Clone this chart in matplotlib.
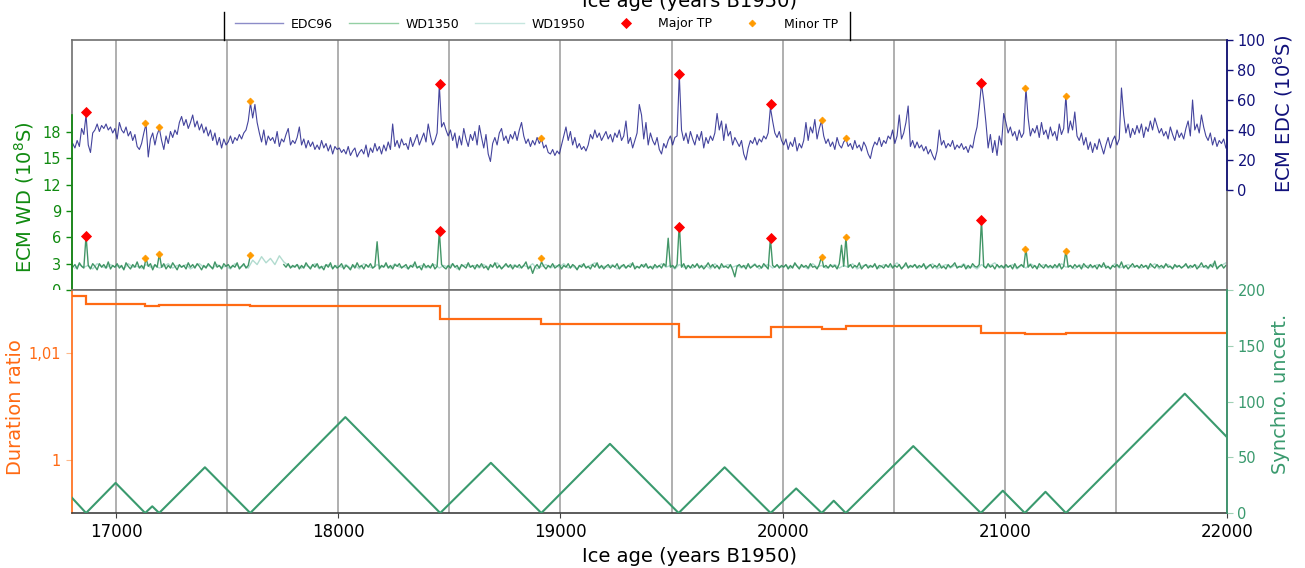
import numpy as np
import matplotlib
matplotlib.use("Agg")
import matplotlib.pyplot as plt
from matplotlib.lines import Line2D
from matplotlib.transforms import Bbox, TransformedBbox

nan = float("nan")

# ---------------- data ----------------
EDC_START, EDC_STEP = 16805, 10
edc96 = [
    31, 28, 33, 29, 41, 37, 50, 30, 25, 38,
    40, 44, 39, 43, 41, 44, 40, 42, 38, 41,
    34, 45, 40, 38, 42, 36, 39, 33, 37, 29,
    27, 31, 38, 44, 22, 34, 38, 30, 37, 41,
    33, 27, 36, 31, 39, 35, 40, 37, 45, 49,
    43, 47, 41, 45, 50, 42, 46, 40, 44, 38,
    42, 36, 40, 33, 38, 30, 35, 28, 34, 30,
    32, 36, 31, 35, 33, 37, 34, 38, 40, 46,
    58, 48, 57, 45, 38, 32, 40, 30, 36, 33,
    35, 31, 39, 29, 34, 32, 37, 41, 30, 33,
    31, 35, 42, 30, 34, 28, 33, 29, 32, 27,
    30, 27, 33, 28, 31, 26, 30, 24, 29, 27,
    28, 25, 27, 24, 29, 23, 26, 28, 22, 25,
    27, 24, 30, 22, 28, 25, 31, 26, 29, 24,
    30, 26, 32, 27, 44, 29, 33, 28, 34, 30,
    31, 27, 35, 29, 33, 37, 30, 34, 38, 32,
    44, 36, 30, 33, 38, 70, 42, 45, 40, 36,
    40, 33, 38, 28, 36, 30, 41, 34, 29, 37,
    33, 39, 30, 43, 35, 28, 37, 24, 19, 31,
    35, 30, 38, 41, 33, 36, 31, 37, 34, 39,
    33, 40, 45, 36, 31, 34, 29, 33, 30, 35,
    31, 34, 28, 30, 25, 24, 27, 23, 26, 24,
    30, 36, 42, 33, 39, 30, 35, 28, 31, 27,
    29, 26, 30, 37, 34, 40, 35, 38, 33, 36,
    39, 34, 37, 32, 38, 35, 40, 33, 36, 46,
    31, 35, 28, 33, 38, 57, 50, 34, 45, 30,
    38, 33, 30, 35, 27, 24, 31, 28, 33, 36,
    30, 35, 36, 77, 40, 33, 38, 31, 39, 34,
    30, 37, 33, 39, 28, 35, 31, 36, 33, 38,
    51, 40, 46, 33, 44, 36, 39, 30, 35, 32,
    29, 33, 24, 20, 28, 33, 31, 35, 30, 34,
    32, 36, 34, 38, 55, 46, 38, 35, 39, 33,
    30, 34, 27, 32, 29, 35, 26, 31, 28, 33,
    45, 33, 42, 38, 47, 34, 41, 46, 36, 31,
    34, 29, 32, 27, 35, 30, 28, 32, 34, 29,
    31, 27, 33, 28, 30, 26, 32, 29, 24, 21,
    28, 32, 30, 35, 29, 33, 31, 36, 34, 40,
    31, 36, 50, 34, 38, 45, 56, 29, 33, 28,
    32, 28, 30, 26, 29, 24, 27, 23, 20, 26,
    40, 30, 33, 28, 31, 29, 33, 27, 30, 28,
    31, 27, 29, 25, 30, 28, 36, 42, 55, 71,
    60, 45, 28, 37, 25, 33, 23, 36, 30, 51,
    45, 38, 42, 36, 39, 33, 40, 35, 38, 68,
    48, 36, 41, 38, 43, 35, 45, 37, 40, 34,
    42, 36, 39, 33, 44, 37, 41, 63, 38, 46,
    40, 52, 36, 33, 38, 30, 35, 27, 32, 25,
    31, 27, 34, 29, 24, 30, 35, 28, 33, 36,
    30, 34, 68, 50, 38, 44, 35, 41, 37, 43,
    38, 44, 35, 42, 39, 46, 40, 48, 43, 38,
    41, 36, 39, 34, 42, 37, 33, 40, 35, 38,
    34, 41, 46, 36, 60, 40, 44, 38, 50, 42,
    36, 33, 38, 30, 35, 29, 33, 31, 34, 28,
]

WD1350_START, WD1350_STEP = 16805, 10
wd1350 = [
    2.6, 2.9, 2.4, 3.1, 2.7, 2.5, 6.2, 2.8, 2.4, 3.0,
    2.7, 2.3, 3.0, 2.6, 2.9, 2.5, 3.2, 2.4, 2.8, 2.6,
    3.0, 2.5, 2.8, 2.3, 3.1, 2.7, 2.4, 2.9, 2.6, 3.2,
    2.5, 2.8, 2.4, 3.6, 2.7, 3.0, 2.3, 2.9, 2.6, 4.1,
    2.6, 3.0, 2.4, 2.8, 2.5, 3.1, 2.7, 2.3, 2.9, 2.6,
    2.8, 2.4, 3.1, 2.6, 2.9, 2.5, 3.0, 2.7, 2.3, 2.8,
    2.5, 3.0, 2.7, 2.4, 3.2, 2.6, 2.8, 2.4, 3.0, 2.7,
    2.9, 2.5, 2.8, 2.6, 3.1, 2.4, 2.7, 3.0, 2.5, 2.8,
    4.0, nan, nan, nan, nan, nan, nan, nan, nan, nan,
    nan, nan, nan, nan, nan, 2.9, 2.6, 3.0, 2.5, 2.8,
    2.6, 2.9, 2.4, 2.8, 2.5, 3.1, 2.7, 2.4, 2.9, 2.6,
    3.0, 2.5, 2.7, 2.3, 2.9, 2.6, 3.1, 2.4, 2.8, 2.5,
    2.7, 3.0, 2.4, 2.8, 2.6, 2.3, 2.9, 2.5, 3.1, 2.6,
    2.8, 2.4, 2.9, 2.6, 3.0, 2.5, 2.7, 5.5, 2.4, 2.8,
    2.6, 3.1, 2.5, 2.8, 2.4, 2.9, 2.7, 3.0, 2.5, 2.7,
    2.9, 2.4, 2.8, 2.6, 3.2, 2.5, 2.7, 2.3, 3.0, 2.6,
    2.8, 2.5, 3.0, 2.4, 2.7, 6.7, 2.9, 2.6, 2.4, 2.8,
    2.5, 3.0, 2.6, 2.8, 2.3, 2.9, 2.7, 2.5, 3.1, 2.6,
    2.8, 2.4, 2.9, 2.6, 3.0, 2.5, 2.7, 2.3, 2.9, 2.6,
    3.1, 2.5, 2.8, 2.4, 2.7, 3.0, 2.6, 2.9, 2.4, 2.8,
    2.6, 2.9, 2.5, 2.8, 3.2, 2.4, 2.7, 1.9, 2.6, 2.9,
    2.5, 3.2, 2.7, 2.4, 2.8, 2.6, 3.0, 2.5, 2.7, 2.9,
    2.4, 2.8, 2.6, 3.0, 2.5, 2.9, 2.7, 2.3, 2.8, 2.6,
    3.0, 2.5, 2.7, 2.4, 2.9, 2.6, 3.1, 2.5, 2.8, 2.4,
    2.7, 2.9, 2.5, 2.8, 2.6, 3.0, 2.4, 2.7, 2.9, 2.5,
    2.8, 2.6, 3.1, 2.4, 2.7, 2.5, 2.9, 2.6, 3.0, 2.5,
    2.7, 2.4, 2.9, 2.6, 2.8, 2.5, 3.0, 2.7, 5.9, 2.6,
    2.8, 2.5, 2.9, 7.6, 2.6, 3.0, 2.4, 2.8, 2.5, 2.9,
    2.6, 3.0, 2.5, 2.8, 2.4, 2.7, 3.1, 2.6, 2.9, 2.5,
    2.8, 2.4, 3.0, 2.6, 2.7, 2.5, 2.9, 2.3, 1.5, 2.7,
    2.9, 2.6, 2.8, 2.4, 3.0, 2.5, 2.7, 2.9, 2.6, 2.8,
    2.5, 3.0, 2.7, 2.4, 5.9, 2.8, 2.6, 2.9, 2.5, 2.8,
    2.6, 2.9, 2.4, 2.8, 2.5, 3.1, 2.7, 2.4, 2.9, 2.6,
    2.8, 2.5, 3.0, 2.6, 2.7, 2.4, 2.9, 3.8, 2.6, 2.8,
    2.5, 2.9, 2.6, 2.8, 2.4, 3.0, 5.1, 2.7, 6.0, 2.6,
    2.9, 2.5, 2.8, 2.6, 3.1, 2.4, 2.7, 2.9, 2.5, 2.8,
    2.6, 3.0, 2.4, 2.8, 2.7, 2.5, 2.9, 2.6, 3.0, 2.5,
    2.8, 2.6, 2.9, 2.4, 2.7, 3.1, 2.5, 2.8, 2.6, 2.9,
    2.5, 2.8, 2.6, 3.0, 2.4, 2.7, 2.9, 2.5, 2.8, 2.6,
    3.0, 2.5, 2.7, 2.4, 2.9, 2.6, 2.8, 3.1, 2.5, 2.7,
    2.6, 2.9, 2.4, 2.8, 2.5, 3.0, 2.7, 2.6, 2.9, 8.0,
    2.7, 2.5, 3.0, 2.6, 2.8, 2.4, 2.9, 2.6, 2.8, 2.5,
    2.9, 2.6, 2.8, 2.4, 3.0, 2.5, 2.7, 2.9, 2.6, 4.7,
    2.6, 2.9, 2.5, 2.8, 2.4, 3.0, 2.7, 2.5, 2.9, 2.6,
    2.8, 2.5, 2.9, 2.6, 3.0, 2.4, 2.7, 4.5, 2.6, 2.8,
    2.5, 2.9, 2.6, 2.8, 2.4, 3.0, 2.7, 2.5, 2.9, 2.6,
    2.8, 2.4, 2.9, 2.6, 3.1, 2.5, 2.7, 2.4, 2.8, 2.6,
    2.9, 2.6, 3.2, 2.5, 2.8, 2.4, 2.7, 3.0, 2.6, 2.8,
    2.5, 2.9, 2.6, 2.8, 2.4, 3.0, 2.7, 2.5, 2.9, 2.6,
    2.8, 2.5, 3.0, 2.6, 2.7, 2.4, 2.9, 2.6, 2.8, 2.5,
    2.7, 3.0, 2.5, 2.8, 2.6, 2.9, 2.4, 2.7, 3.1, 2.6,
    2.8, 2.5, 2.9, 2.6, 3.3, 2.4, 2.7, 2.9, 2.5, 2.8,
]

WD1950_START, WD1950_STEP = 16815, 20
wd1950 = [
    2.5, 2.9, 2.6, 2.8, 2.4, 3.0, 2.7, 2.5, 2.9, 2.6,
    2.8, 2.4, 3.0, 2.6, 2.7, 2.5, 2.9, 2.6, 2.8, 2.5,
    2.7, 3.0, 2.5, 2.8, 2.6, 2.9, 2.4, 2.7, 3.0, 2.6,
    2.8, 2.5, 2.9, 2.6, 2.7, 2.4, 3.0, 2.6, 2.8, 2.5,
    3.4, 2.9, 3.8, 3.1, 3.6, 2.9, 3.9, 3.2, 2.8, 2.6,
    2.9, 2.5, 2.8, 2.6, 3.0, 2.4, 2.7, 2.9, 2.5, 2.8,
    2.6, 2.9, 2.5, 2.8, 2.4, 3.0, 2.7, 2.5, 2.9, 2.6,
    2.8, 2.5, 3.0, 2.6, 2.7, 2.4, 2.9, 2.6, 2.8, 2.5,
    2.7, 2.9, 2.5, 2.8, 2.6, 3.0, 2.4, 2.7, 2.9, 2.6,
    2.8, 2.5, 2.9, 2.6, 2.7, 3.1, 2.5, 2.8, 2.6, 2.9,
    2.5, 2.8, 2.6, 3.0, 2.4, 2.7, 2.9, 2.5, 2.8, 2.6,
    3.0, 2.5, 2.7, 2.4, 2.9, 2.6, 2.8, 3.1, 2.5, 2.7,
    2.6, 2.9, 2.4, 2.8, 2.5, 3.0, 2.7, 2.6, 2.9, 2.5,
    2.7, 2.5, 3.0, 2.6, 2.8, 2.4, 2.9, 2.6, 2.8, 2.5,
    2.9, 2.6, 2.8, 2.4, 3.0, 2.5, 2.7, 2.9, 2.6, 2.8,
    2.5, 2.8, 2.6, 3.0, 2.4, 2.7, 2.9, 2.5, 2.8, 2.6,
    2.8, 2.5, 2.9, 2.6, 2.7, 2.4, 3.0, 2.6, 2.8, 2.5,
    2.7, 2.9, 2.5, 2.8, 2.6, 3.0, 2.4, 2.7, 2.9, 2.6,
    2.8, 2.5, 2.9, 2.6, 2.7, 3.1, 2.5, 2.8, 2.6, 2.9,
    2.5, 2.8, 2.6, 3.0, 2.4, 2.7, 2.9, 2.5, 2.8, 2.6,
    3.0, 2.5, 2.7, 2.4, 2.9, 2.6, 2.8, 3.1, 2.5, 2.7,
    2.6, 2.9, 2.4, 2.8, 2.5, 3.0, 2.7, 2.6, 2.9, 2.5,
    2.7, 2.5, 3.0, 2.6, 2.8, 2.4, 2.9, 2.6, 2.8, 2.5,
    2.9, 2.6, 2.8, 2.4, 3.0, 2.5, 2.7, 2.9, 2.6, 2.8,
    2.5, 2.8, 2.6, 3.0, 2.4, 2.7, 2.9, 2.5, 2.8, 2.6,
    2.8, 2.5, 2.9, 2.6, 2.7, 2.4, 3.0, 2.6, 2.8, 3.1,
]

major_tp_age = [16865, 18459, 19532, 19946, 20892]
major_tp_edc = [52.0, 70.4, 77.6, 57.1, 71.1]
major_tp_wd = [6.2, 6.7, 7.2, 5.9, 8.0]

minor_tp_age = [17131, 17194, 17604, 18914, 20176, 20284, 21090, 21275]
minor_tp_edc = [44.4, 41.8, 59.1, 34.4, 46.4, 34.4, 67.8, 62.9]
minor_tp_wd = [3.6, 4.1, 4.0, 3.6, 3.8, 6.0, 4.7, 4.5]

ratio_edges = [16800, 16865, 17131, 17194, 17604, 18459, 18914, 19532,
               19946, 20176, 20284, 20892, 21090, 21275, 22000]
ratio_values = [1.01540, 1.01462, 1.01446, 1.01456, 1.01441, 1.01321, 1.01277,
                1.01150, 1.01246, 1.01231, 1.01253, 1.01187, 1.01181, 1.01193]

sync_age = [16800, 16865, 16998, 17131, 17163, 17194, 17400, 17604, 18032,
            18459, 18687, 18914, 19223, 19532, 19739, 19946, 20061, 20176,
            20230, 20284, 20588, 20892, 20991, 21090, 21183, 21275, 21810, 22000]
sync_unc = [14, 0, 27, 0, 6, 0, 41, 0, 86, 0, 45, 0, 62, 0, 41, 0, 22, 0,
            11, 0, 60, 0, 20, 0, 19, 0, 107, 68]

x_major_ticks = [17000, 18000, 19000, 20000, 21000, 22000]
x_grid_ticks = [17000, 17500, 18000, 18500, 19000, 19500, 20000, 20500, 21000, 21500]
wd_ticks = [0, 3, 6, 9, 12, 15, 18]
edc_ticks = [0, 20, 40, 60, 80, 100]
ratio_ticks = [1.0, 1.01]
ratio_ticklabels = ["1", "1,01"]
sync_ticks = [0, 50, 100, 150, 200]

# ---------------- styling ----------------
C_WD = "#108a10"
C_EDC = "#10107a"
C_ORANGE = "#ff6a13"
C_SYNC = "#3a9a6e"
C_FRAME = "#707070"
C_GRID = "#9a9a9a"

XMIN, XMAX = 16800, 22000
WD_LIM = (0, 28.5)
EDC_LIM = (-66.7, 100)
RATIO_LIM = (0.995033, 1.015935)
SYNC_LIM = (0, 200)

W, H = 1305, 568
fig = plt.figure(figsize=(W / 100, H / 100), dpi=100)
L = 71.6 / W
R = 1227.0 / W
ax_wd = fig.add_axes([L, 1 - 290 / H, R - L, 250 / H])
ax_edc = ax_wd.twinx()
ax_dr = fig.add_axes([L, 1 - 513 / H, R - L, 223 / H])
ax_su = ax_dr.twinx()

edc_age = EDC_START + EDC_STEP * np.arange(len(edc96))
wd1350_age = WD1350_START + WD1350_STEP * np.arange(len(wd1350))
wd1950_age = WD1950_START + WD1950_STEP * np.arange(len(wd1950))

MAJ_MS, MIN_MS = 4.6, 3.5

# ---- top panel ----
ax_wd.plot(wd1950_age, wd1950, color="#7fc4b0", lw=1.0, alpha=0.6)
ax_wd.plot(wd1350_age, wd1350, color="#2e8b57", lw=1.0, alpha=0.9)
ax_wd.plot(major_tp_age, major_tp_wd, ls="none", marker="D", ms=MAJ_MS,
           color="red", mew=0.6, zorder=5)
ax_wd.plot(minor_tp_age, minor_tp_wd, ls="none", marker="D", ms=MIN_MS,
           color="#ff9a00", mew=0.5, zorder=5)
ax_wd.set_xlim(XMIN, XMAX)
ax_wd.set_ylim(*WD_LIM)
ax_wd.set_yticks(wd_ticks)
ax_wd.set_xticks(x_grid_ticks)
ax_wd.tick_params(axis="x", length=0, labelbottom=False)
ax_wd.tick_params(axis="y", colors=C_WD, labelsize=10.5, length=4, width=1)
ax_wd.grid(axis="x", color=C_GRID, lw=1.1)
ax_wd.set_axisbelow(True)
for s in ax_wd.spines.values():
    s.set_color(C_FRAME)
    s.set_linewidth(1.2)

ax_edc.plot(edc_age, edc96, color="#23238c", lw=0.8, alpha=0.85)
ax_edc.plot(major_tp_age, major_tp_edc, ls="none", marker="D", ms=MAJ_MS,
            color="red", mew=0.6, zorder=5)
ax_edc.plot(minor_tp_age, minor_tp_edc, ls="none", marker="D", ms=MIN_MS,
            color="#ff9a00", mew=0.5, zorder=5)
ax_edc.set_ylim(*EDC_LIM)
ax_edc.set_yticks(edc_ticks)
ax_edc.tick_params(axis="y", colors=C_EDC, labelsize=10.5, length=4, width=1)
ax_edc.spines["top"].set_visible(False)
ax_edc.spines["bottom"].set_visible(False)
ax_edc.spines["right"].set_color(C_EDC)
ax_edc.spines["right"].set_linewidth(1.2)
ax_edc.spines["right"].set_bounds(0, 100)
wd_top_in_edc = EDC_LIM[0] + (20 - WD_LIM[0]) / (WD_LIM[1] - WD_LIM[0]) * (EDC_LIM[1] - EDC_LIM[0])
ax_edc.spines["left"].set_color(C_WD)
ax_edc.spines["left"].set_linewidth(1.2)
ax_edc.spines["left"].set_bounds(EDC_LIM[0], wd_top_in_edc)

ax_wd.set_ylabel("ECM WD (10$^8$S)", color=C_WD, fontsize=14)
ax_wd.yaxis.set_label_coords(-0.031, 0.37)
ax_edc.set_ylabel("ECM EDC (10$^8$S)", color=C_EDC, fontsize=14)
ax_edc.yaxis.set_label_coords(1.038, 0.705)

# ---- bottom panel ----
ax_dr.stairs(ratio_values, ratio_edges, baseline=None, color=C_ORANGE, lw=1.6)
ax_dr.set_xlim(XMIN, XMAX)
ax_dr.set_ylim(*RATIO_LIM)
ax_dr.set_yticks(ratio_ticks)
ax_dr.set_yticklabels(ratio_ticklabels)
ax_dr.tick_params(axis="y", labelcolor=C_ORANGE, color="#ffb98a", labelsize=10.5, length=4)
ax_dr.set_xticks(x_major_ticks)
ax_dr.set_xticks(x_grid_ticks, minor=True)
ax_dr.tick_params(axis="x", which="major", labelsize=12, length=3.5, color="#404040")
ax_dr.tick_params(axis="x", which="minor", length=0)
ax_dr.grid(axis="x", which="both", color=C_GRID, lw=1.1)
ax_dr.set_axisbelow(True)
for s in ax_dr.spines.values():
    s.set_color(C_FRAME)
    s.set_linewidth(1.2)
ax_dr.spines["bottom"].set_color("#404040")
ax_dr.spines["left"].set_color(C_ORANGE)
ax_dr.set_ylabel("Duration ratio", color=C_ORANGE, fontsize=14)
ax_dr.yaxis.set_label_coords(-0.040, 0.475)

ax_su.plot(sync_age, sync_unc, color=C_SYNC, lw=1.5)
ax_su.set_ylim(*SYNC_LIM)
ax_su.set_yticks(sync_ticks)
ax_su.tick_params(axis="y", labelcolor=C_SYNC, color="#9fd0b5", labelsize=10.5, length=4)
for k in ("top", "bottom", "left"):
    ax_su.spines[k].set_visible(False)
ax_su.spines["right"].set_color(C_SYNC)
ax_su.spines["right"].set_linewidth(1.2)
ax_su.set_ylabel("Synchro. uncert.", color=C_SYNC, fontsize=14)
ax_su.yaxis.set_label_coords(1.038, 0.536)

# clip top-panel left tick labels at the panel boundary
clip = TransformedBbox(Bbox([[0, 1 - 290 / H], [1, 1]]), fig.transFigure)
for t in ax_wd.yaxis.get_major_ticks():
    t.label1.set_clip_box(clip)
    t.label1.set_clip_on(True)

# axis titles
fig.text(690 / W, 1 - 561.5 / H, "Ice age (years B1950)", ha="center",
         va="baseline", fontsize=14)
fig.text(690 / W, 1 - 7 / H, "Ice age (years B1950)", ha="center",
         va="baseline", fontsize=14)

# legend
handles = [
    Line2D([], [], color="#8c8cc8", lw=1.0),
    Line2D([], [], color="#94d0a4", lw=1.0),
    Line2D([], [], color="#c6e6df", lw=1.0),
    Line2D([], [], ls="none", marker="D", ms=MAJ_MS, color="red", mew=0.6),
    Line2D([], [], ls="none", marker="D", ms=MIN_MS, color="#ff9a00", mew=0.5),
]
labels = ["EDC96", "WD1350", "WD1950", "Major TP", "Minor TP"]
fig.legend(handles, labels, loc="center", bbox_to_anchor=(536.5 / W, 1 - 24 / H),
           ncol=5, frameon=False, fontsize=9, handlelength=3.9,
           handletextpad=0.6, columnspacing=1.3, borderpad=0.2)
for xp in (223.5, 850):
    fig.add_artist(Line2D([xp / W, xp / W], [1 - 12 / H, 1 - 40 / H],
                          transform=fig.transFigure, color="black", lw=1.0))

fig.savefig("out.png", dpi=100)
